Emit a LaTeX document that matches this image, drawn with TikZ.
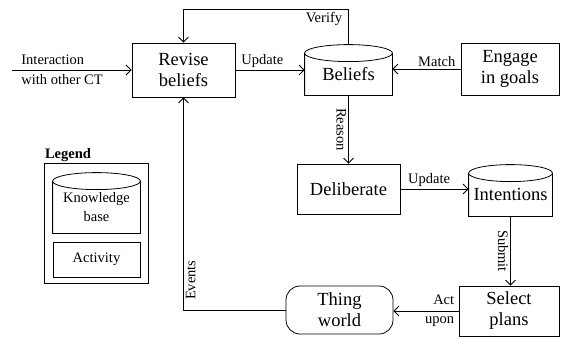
\documentclass[tikz,border=0pt]{standalone}
\usepackage{fontspec}
\setmainfont{Liberation Serif}
\usetikzlibrary{arrows.meta,calc}
\newcommand{\boxfont}{\rmfamily\fontsize{18.5}{21}\selectfont}
\newcommand{\lblfont}{\rmfamily\fontsize{14.5}{19.5}\selectfont}
\newcommand{\tank}[1]{\draw let \p1=(#1.north west), \p2=(#1.south east) in
  (\x1,\y1) -- (\x1,\y2) -- (\x2,\y2) -- (\x2,\y1)
  (#1.north) ellipse [x radius={(\x2-\x1)/2}, y radius=8.5pt];}
\tikzset{
  act/.style={draw, align=center, inner sep=0pt, font=\boxfont},
  store/.style={align=center, inner sep=0pt, font=\boxfont},
  lbl/.style={font=\lblfont, inner sep=2pt},
  flow/.style={->}
}
\begin{document}
\begin{tikzpicture}[x=1pt, y=-1pt, line width=0.8pt, >={Straight Barb[length=5pt,width=10pt]}]
\useasboundingbox (0,0) rectangle (562,338);
\node[act, minimum width=103, minimum height=54] (rev) at (183.5,70) {Revise\\beliefs};
\node[store, minimum width=87, minimum height=41.5] (bel) at (348.5,74.25) {Beliefs};
\tank{bel}
\node[act, minimum width=98, minimum height=52] (eng) at (510,69) {Engage\\in goals};
\node[act, minimum width=103, minimum height=50] (del) at (348.5,189) {Deliberate};
\node[store, minimum width=83, minimum height=42.5] (int) at (510.5,194.75) {Intentions};
\tank{int}
\node[act, minimum width=100, minimum height=50] (sel) at (509,311) {Select\\plans};
\node[act, rounded corners=14pt, minimum width=107, minimum height=48] (thing) at (339.5,310) {Thing\\world};
\coordinate (ext) at (12,70);
\coordinate (top) at (183.5,9);
\coordinate (beltop) at ([yshift=8.5pt]bel.north);
\draw[flow] (ext) node[lbl, anchor=west, align=left, xshift=7pt] {Interaction\\with other CT} -- (rev.west);
\draw[flow] (rev.east) -- node[lbl, pos=0.39, above] {Update} (rev.east -| bel.west);
\draw[flow] (beltop) -- (beltop |- top) node[lbl, anchor=north east, inner sep=3pt, xshift=-3pt] {Verify} -| (rev.north);
\draw[flow] (eng.west) -- node[lbl, pos=0.35, above] {Match} (eng.west -| bel.east);
\draw[flow] (bel.south) -- node[lbl, rotate=-90, anchor=north] {Reason} (del.north);
\draw[flow] (del.east) -- node[lbl, pos=0.42, above] {Update} (del.east -| int.west);
\draw[flow] (int.south) -- node[lbl, rotate=-90, anchor=north] {Submit} (int.south |- sel.north);
\draw[flow] (sel.west) node[lbl, anchor=east, align=right, inner sep=4pt] {Act\\upon} -- (sel.west -| thing.east);
\draw[flow] (thing.west) -| node[lbl, pos=0.57, rotate=90, anchor=north] {Events} (rev.south);
\node[font=\lblfont\bfseries] (legtitle) at (68,155) {Legend};
\node[draw, minimum width=104, minimum height=120] (leg) at (96.5,223.5) {};
\node[store, font=\lblfont, minimum width=87, minimum height=51.5] (kb) at (96.5,207.25) {Knowledge\\base};
\tank{kb}
\node[act, font=\lblfont, minimum width=87, minimum height=35] (actv) at (96.5,259.5) {Activity};
\end{tikzpicture}
\end{document}
